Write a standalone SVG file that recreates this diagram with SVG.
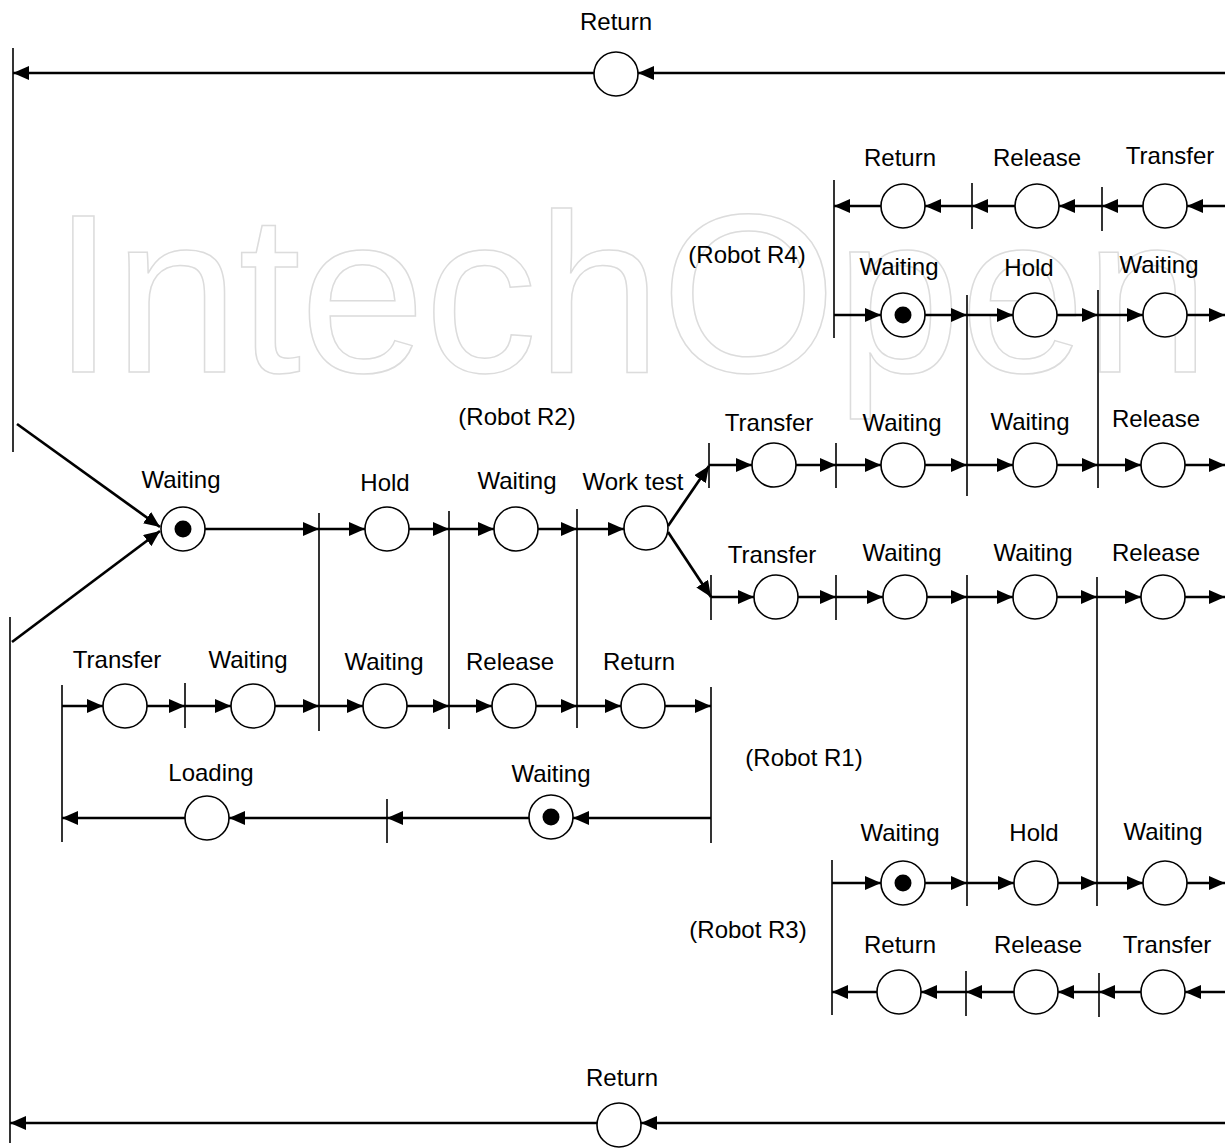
<svg xmlns="http://www.w3.org/2000/svg" width="1225" height="1148" viewBox="0 0 1225 1148">
<style>
text{font-family:"Liberation Sans",Arial,sans-serif;font-size:24px;fill:#000;text-anchor:middle}
.wm{font-family:"Liberation Sans",Arial,sans-serif;font-size:226px;fill:none;stroke:#dcdcdc;stroke-width:1.5;text-anchor:start}
.pl{fill:#fff;stroke:#000;stroke-width:1.6}
.tk{fill:#000}
.tr{stroke:#000;stroke-width:1.6}
.fl{stroke:#000;stroke-width:2.7;fill:none;marker-end:url(#ah)}
</style>
<defs>
<marker id="ah" markerUnits="userSpaceOnUse" markerWidth="16" markerHeight="14" refX="16" refY="7" orient="auto">
<path d="M0,0 L16,7 L0,14 z" fill="#000"/>
</marker>
</defs>
<rect width="1225" height="1148" fill="#fff"/>
<text class="wm" x="52" y="372" textLength="1158" lengthAdjust="spacing">IntechOpen</text>

<g id="connectors">
<line class="fl" x1="1225" y1="73" x2="638" y2="73"/>
<line class="fl" x1="594" y1="73" x2="13" y2="73"/>
<line class="fl" x1="1225" y1="1123" x2="641" y2="1123"/>
<line class="fl" x1="597" y1="1123" x2="10" y2="1123"/>
<line class="fl" x1="17" y1="424" x2="160" y2="527"/>
<line class="fl" x1="12" y1="642" x2="160" y2="531"/>
<line class="fl" x1="205" y1="529" x2="319" y2="529"/>
<line class="fl" x1="319" y1="529" x2="365" y2="529"/>
<line class="fl" x1="409" y1="529" x2="449" y2="529"/>
<line class="fl" x1="449" y1="529" x2="494" y2="529"/>
<line class="fl" x1="538" y1="529" x2="577" y2="529"/>
<line class="fl" x1="577" y1="529" x2="624" y2="529"/>
<line class="fl" x1="668" y1="526" x2="709" y2="466"/>
<line class="fl" x1="668" y1="532" x2="711" y2="597"/>
<line class="fl" x1="709" y1="465" x2="752" y2="465"/>
<line class="fl" x1="796" y1="465" x2="836" y2="465"/>
<line class="fl" x1="836" y1="465" x2="881" y2="465"/>
<line class="fl" x1="925" y1="465" x2="967" y2="465"/>
<line class="fl" x1="967" y1="465" x2="1013" y2="465"/>
<line class="fl" x1="1057" y1="465" x2="1098" y2="465"/>
<line class="fl" x1="1098" y1="465" x2="1141" y2="465"/>
<line class="fl" x1="1185" y1="465" x2="1225" y2="465"/>
<line class="fl" x1="711" y1="597" x2="754" y2="597"/>
<line class="fl" x1="798" y1="597" x2="836" y2="597"/>
<line class="fl" x1="836" y1="597" x2="883" y2="597"/>
<line class="fl" x1="927" y1="597" x2="967" y2="597"/>
<line class="fl" x1="967" y1="597" x2="1013" y2="597"/>
<line class="fl" x1="1057" y1="597" x2="1097" y2="597"/>
<line class="fl" x1="1097" y1="597" x2="1141" y2="597"/>
<line class="fl" x1="1185" y1="597" x2="1225" y2="597"/>
<line class="fl" x1="1225" y1="206" x2="1187" y2="206"/>
<line class="fl" x1="1143" y1="206" x2="1102" y2="206"/>
<line class="fl" x1="1102" y1="206" x2="1059" y2="206"/>
<line class="fl" x1="1015" y1="206" x2="972" y2="206"/>
<line class="fl" x1="972" y1="206" x2="925" y2="206"/>
<line class="fl" x1="881" y1="206" x2="834" y2="206"/>
<line class="fl" x1="834" y1="315" x2="881" y2="315"/>
<line class="fl" x1="925" y1="315" x2="967" y2="315"/>
<line class="fl" x1="967" y1="315" x2="1013" y2="315"/>
<line class="fl" x1="1057" y1="315" x2="1098" y2="315"/>
<line class="fl" x1="1098" y1="315" x2="1143" y2="315"/>
<line class="fl" x1="1187" y1="315" x2="1225" y2="315"/>
<line class="fl" x1="832" y1="883" x2="881" y2="883"/>
<line class="fl" x1="925" y1="883" x2="967" y2="883"/>
<line class="fl" x1="967" y1="883" x2="1014" y2="883"/>
<line class="fl" x1="1058" y1="883" x2="1097" y2="883"/>
<line class="fl" x1="1097" y1="883" x2="1143" y2="883"/>
<line class="fl" x1="1187" y1="883" x2="1225" y2="883"/>
<line class="fl" x1="1225" y1="992" x2="1185" y2="992"/>
<line class="fl" x1="1141" y1="992" x2="1099" y2="992"/>
<line class="fl" x1="1099" y1="992" x2="1058" y2="992"/>
<line class="fl" x1="1014" y1="992" x2="966" y2="992"/>
<line class="fl" x1="966" y1="992" x2="921" y2="992"/>
<line class="fl" x1="877" y1="992" x2="832" y2="992"/>
<line class="fl" x1="62" y1="706" x2="103" y2="706"/>
<line class="fl" x1="147" y1="706" x2="185" y2="706"/>
<line class="fl" x1="185" y1="706" x2="231" y2="706"/>
<line class="fl" x1="275" y1="706" x2="319" y2="706"/>
<line class="fl" x1="319" y1="706" x2="363" y2="706"/>
<line class="fl" x1="407" y1="706" x2="449" y2="706"/>
<line class="fl" x1="449" y1="706" x2="492" y2="706"/>
<line class="fl" x1="536" y1="706" x2="577" y2="706"/>
<line class="fl" x1="577" y1="706" x2="621" y2="706"/>
<line class="fl" x1="665" y1="706" x2="711" y2="706"/>
<line class="fl" x1="711" y1="818" x2="573" y2="818"/>
<line class="fl" x1="529" y1="818" x2="387" y2="818"/>
<line class="fl" x1="387" y1="818" x2="229" y2="818"/>
<line class="fl" x1="185" y1="818" x2="62" y2="818"/>
</g>

<g id="transitions">
<g id="t-left-top"><line class="tr" x1="13" y1="48" x2="13" y2="452"/></g>
<g id="t-left-bottom"><line class="tr" x1="10" y1="617" x2="10" y2="1143"/></g>
<g id="t-319"><line class="tr" x1="319" y1="513" x2="319" y2="731"/></g>
<g id="t-449"><line class="tr" x1="449" y1="511" x2="449" y2="729"/></g>
<g id="t-577"><line class="tr" x1="577" y1="509" x2="577" y2="728"/></g>
<g id="t-709"><line class="tr" x1="709" y1="443" x2="709" y2="488"/></g>
<g id="t-711"><line class="tr" x1="711" y1="575" x2="711" y2="620"/></g>
<g id="t-836u"><line class="tr" x1="836" y1="443" x2="836" y2="488"/></g>
<g id="t-836l"><line class="tr" x1="836" y1="575" x2="836" y2="620"/></g>
<g id="t-967u"><line class="tr" x1="967" y1="295" x2="967" y2="496"/></g>
<g id="t-1098u"><line class="tr" x1="1098" y1="290" x2="1098" y2="488"/></g>
<g id="t-967l"><line class="tr" x1="967" y1="575" x2="967" y2="906"/></g>
<g id="t-1097l"><line class="tr" x1="1097" y1="577" x2="1097" y2="906"/></g>
<g id="t-834"><line class="tr" x1="834" y1="180" x2="834" y2="338"/></g>
<g id="t-972"><line class="tr" x1="972" y1="183" x2="972" y2="229"/></g>
<g id="t-1102"><line class="tr" x1="1102" y1="187" x2="1102" y2="231"/></g>
<g id="t-832"><line class="tr" x1="832" y1="860" x2="832" y2="1015"/></g>
<g id="t-966"><line class="tr" x1="966" y1="971" x2="966" y2="1016"/></g>
<g id="t-1099"><line class="tr" x1="1099" y1="973" x2="1099" y2="1017"/></g>
<g id="t-62"><line class="tr" x1="62" y1="685" x2="62" y2="842"/></g>
<g id="t-185"><line class="tr" x1="185" y1="683" x2="185" y2="728"/></g>
<g id="t-711b"><line class="tr" x1="711" y1="687" x2="711" y2="843"/></g>
<g id="t-387"><line class="tr" x1="387" y1="799" x2="387" y2="843"/></g>
</g>

<g id="p-return-top"><circle class="pl" cx="616" cy="74" r="22"/><text x="616" y="30">Return</text></g>
<g id="p-return-bottom"><circle class="pl" cx="619" cy="1125" r="22"/><text x="622" y="1086">Return</text></g>

<g id="p-waiting-main"><circle class="pl" cx="183" cy="529" r="22"/><circle class="tk" cx="183" cy="529" r="8.5"/><text x="181" y="488">Waiting</text></g>
<g id="p-hold-main"><circle class="pl" cx="387" cy="529" r="22"/><text x="385" y="491">Hold</text></g>
<g id="p-waiting-main2"><circle class="pl" cx="516" cy="529" r="22"/><text x="517" y="489">Waiting</text></g>
<g id="p-worktest"><circle class="pl" cx="646" cy="528" r="22"/><text x="633" y="490">Work test</text></g>
<g id="lbl-r2"><text x="517" y="425">(Robot R2)</text></g>

<g id="p-transfer-u"><circle class="pl" cx="774" cy="465" r="22"/><text x="769" y="431">Transfer</text></g>
<g id="p-waiting-u1"><circle class="pl" cx="903" cy="465" r="22"/><text x="902" y="431">Waiting</text></g>
<g id="p-waiting-u2"><circle class="pl" cx="1035" cy="465" r="22"/><text x="1030" y="430">Waiting</text></g>
<g id="p-release-u"><circle class="pl" cx="1163" cy="465" r="22"/><text x="1156" y="427">Release</text></g>

<g id="p-transfer-l"><circle class="pl" cx="776" cy="597" r="22"/><text x="772" y="563">Transfer</text></g>
<g id="p-waiting-l1"><circle class="pl" cx="905" cy="597" r="22"/><text x="902" y="561">Waiting</text></g>
<g id="p-waiting-l2"><circle class="pl" cx="1035" cy="597" r="22"/><text x="1033" y="561">Waiting</text></g>
<g id="p-release-l"><circle class="pl" cx="1163" cy="597" r="22"/><text x="1156" y="561">Release</text></g>

<g id="lbl-r4"><text x="747" y="263">(Robot R4)</text></g>
<g id="p-r4-return"><circle class="pl" cx="903" cy="206" r="22"/><text x="900" y="166">Return</text></g>
<g id="p-r4-release"><circle class="pl" cx="1037" cy="206" r="22"/><text x="1037" y="166">Release</text></g>
<g id="p-r4-transfer"><circle class="pl" cx="1165" cy="206" r="22"/><text x="1170" y="164">Transfer</text></g>
<g id="p-r4-waiting"><circle class="pl" cx="903" cy="315" r="22"/><circle class="tk" cx="903" cy="315" r="8.5"/><text x="899" y="275">Waiting</text></g>
<g id="p-r4-hold"><circle class="pl" cx="1035" cy="315" r="22"/><text x="1029" y="276">Hold</text></g>
<g id="p-r4-waiting2"><circle class="pl" cx="1165" cy="315" r="22"/><text x="1159" y="273">Waiting</text></g>

<g id="lbl-r3"><text x="748" y="938">(Robot R3)</text></g>
<g id="p-r3-waiting"><circle class="pl" cx="903" cy="883" r="22"/><circle class="tk" cx="903" cy="883" r="8.5"/><text x="900" y="841">Waiting</text></g>
<g id="p-r3-hold"><circle class="pl" cx="1036" cy="883" r="22"/><text x="1034" y="841">Hold</text></g>
<g id="p-r3-waiting2"><circle class="pl" cx="1165" cy="883" r="22"/><text x="1163" y="840">Waiting</text></g>
<g id="p-r3-return"><circle class="pl" cx="899" cy="992" r="22"/><text x="900" y="953">Return</text></g>
<g id="p-r3-release"><circle class="pl" cx="1036" cy="992" r="22"/><text x="1038" y="953">Release</text></g>
<g id="p-r3-transfer"><circle class="pl" cx="1163" cy="992" r="22"/><text x="1167" y="953">Transfer</text></g>

<g id="lbl-r1"><text x="804" y="766">(Robot R1)</text></g>
<g id="p-ll-transfer"><circle class="pl" cx="125" cy="706" r="22"/><text x="117" y="668">Transfer</text></g>
<g id="p-ll-waiting1"><circle class="pl" cx="253" cy="706" r="22"/><text x="248" y="668">Waiting</text></g>
<g id="p-ll-waiting2"><circle class="pl" cx="385" cy="706" r="22"/><text x="384" y="670">Waiting</text></g>
<g id="p-ll-release"><circle class="pl" cx="514" cy="706" r="22"/><text x="510" y="670">Release</text></g>
<g id="p-ll-return"><circle class="pl" cx="643" cy="706" r="22"/><text x="639" y="670">Return</text></g>
<g id="p-loading"><circle class="pl" cx="207" cy="818" r="22"/><text x="211" y="781">Loading</text></g>
<g id="p-ll-waiting3"><circle class="pl" cx="551" cy="817" r="22"/><circle class="tk" cx="551" cy="817" r="8.5"/><text x="551" y="782">Waiting</text></g>
</svg>
